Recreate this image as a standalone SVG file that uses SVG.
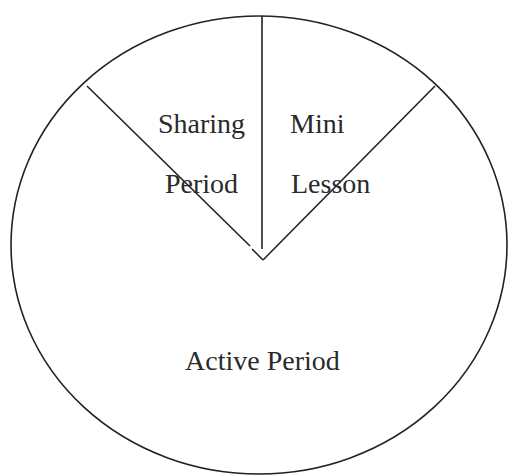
<svg xmlns="http://www.w3.org/2000/svg" width="508" height="475" viewBox="0 0 508 475">
<style>
.ln{fill:none;stroke:#222;stroke-width:1.6}
.t{font-family:"Liberation Serif","Times New Roman",serif;font-size:28px;fill:#2a2a2a}
</style>
<rect width="508" height="475" fill="#fff"/>
<g id="circle"><ellipse class="ln" cx="259" cy="245" rx="248" ry="229"/></g>
<g id="connectors">
<line class="ln" x1="262" y1="16" x2="262" y2="249"/>
<line class="ln" x1="87" y1="86" x2="250" y2="246"/>
<line class="ln" x1="252" y1="249" x2="263" y2="260"/>
<line class="ln" x1="435" y1="86" x2="263" y2="260"/>
</g>
<g id="sharing"><text class="t" x="158" y="133">Sharing</text><text class="t" x="165" y="193">Period</text></g>
<g id="mini"><text class="t" x="290" y="133">Mini</text><text class="t" x="291" y="193">Lesson</text></g>
<g id="active"><text class="t" x="185" y="370">Active Period</text></g>
</svg>
